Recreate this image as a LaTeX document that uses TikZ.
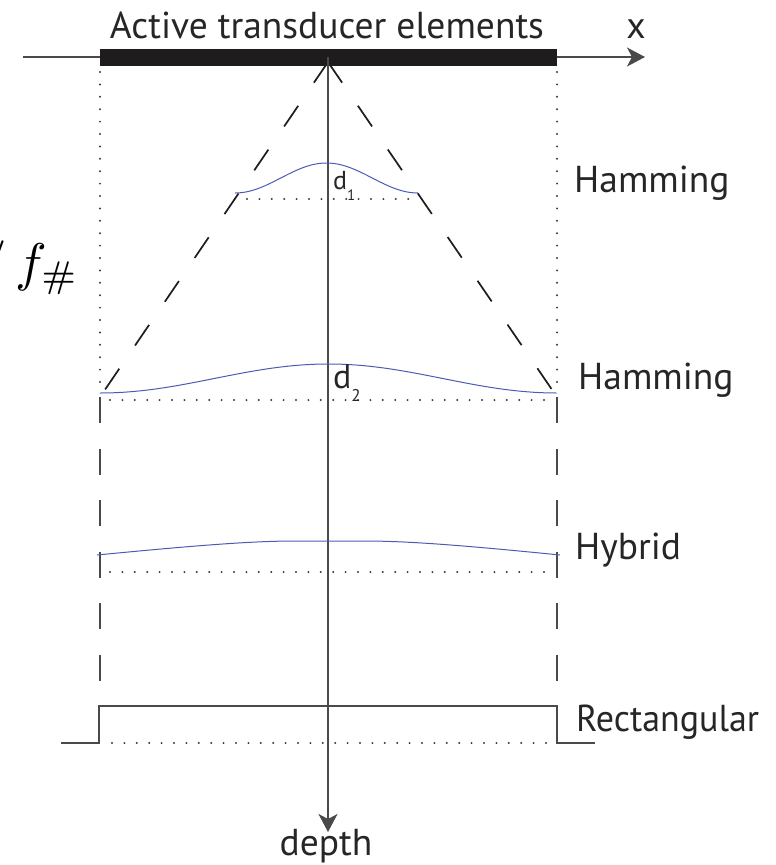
\documentclass[tikz,border=0pt]{standalone}
\usepackage[no-math]{fontspec}
\setmainfont{PT Sans}
\usetikzlibrary{arrows.meta}
\definecolor{axisgray}{HTML}{4A4A4A}
\definecolor{barblack}{HTML}{1E1C1D}
\definecolor{curveblue}{HTML}{4B5BB5}
\definecolor{dotgray}{HTML}{3A3A3A}
\begin{document}
\begin{tikzpicture}[x=1pt,y=-1pt,
  axisline/.style={draw=axisgray, line width=1.6pt},
  axisarrow/.style={-{Stealth[length=18pt,width=19pt,inset=5pt]}},
  conedash/.style={draw=barblack, line width=1.7pt, dash pattern=on 25pt off 28pt},
  sidedash/.style={draw=axisgray, line width=1.6pt, dash pattern=on 26pt off 25.5pt},
  dotline/.style={draw=dotgray, line width=2.2pt, line cap=round, dash pattern=on 0pt off 12.4pt},
  window/.style={draw=curveblue, line width=1pt},
  rectwin/.style={draw=axisgray, line width=1.6pt},
  lbl/.style={inner sep=0pt, font=\fontsize{37.5}{42}\selectfont, text=black!85},
  dlblA/.style={inner sep=0pt, font=\fontsize{26}{30}\selectfont, text=black!85},
  dlblB/.style={inner sep=0pt, font=\fontsize{34}{38}\selectfont, text=black!85}]
\useasboundingbox (0,0) rectangle (776,865);

% coordinates
\coordinate (xstart) at (23,57);
\coordinate (xend) at (645,57);
\coordinate (apex) at (328,57);
\coordinate (apexc) at (328,62);
\coordinate (dend) at (328,832);
\coordinate (cl) at (100,397);
\coordinate (cr) at (557,397);

% x axis
\draw[axisline, axisarrow] (xstart) -- (xend);
% transducer bar
\fill[barblack] (100,49) rectangle (557,66);
\node[lbl, anchor=base] (ate) at (327,38) {Active transducer elements};
\node[lbl, anchor=base] (xl) at (636,38) {x};

% dotted aperture edges
\draw[dotline] (100,72) -- (100,390);
\draw[dotline] (557,72) -- (557,390);

% cone dashed
\draw[conedash] (apexc) -- (cl);
\draw[conedash] (apexc) -- (cr);

% dashed verticals
\draw[sidedash] (cl) -- (100,706);
\draw[sidedash] (cr) -- (557,706);

% depth axis
\draw[axisline, axisarrow] (apex) -- (dend);
\node[lbl, anchor=base] (depth) at (326,855) {depth};

% d1 Hamming
\draw[dotline] (247,199) -- (415,199);
\draw[window] plot[domain=-1:1, samples=80, smooth] ({326.5+91.5*\x}, {193-30*(0.5+0.5*cos(180*\x))});
\node[dlblA, anchor=base west] (d1) at (333,189) {d\raisebox{-11pt}{\fontsize{15}{15}\selectfont 1}};
\node[lbl, anchor=base west] (h1) at (574,192) {Hamming};

% d2 Hamming
\draw[dotline] (110,400) -- (550,400);
\draw[window] plot[domain=-1:1, samples=100, smooth] ({328.5+228.5*\x}, {393-29*(0.5+0.5*cos(180*\x))});
\node[dlblB, anchor=base west] (d2) at (333,388) {d\raisebox{-13pt}{\fontsize{17}{17}\selectfont 2}};
\node[lbl, anchor=base west] (h2) at (578,389) {Hamming};

% Hybrid
\draw[dotline] (110,572) -- (550,572);
\draw[window] (97,555) .. controls (190,546) and (250,541) .. (295,541) -- (365,541) .. controls (410,541) and (470,546) .. (560,555);
\node[lbl, anchor=base west] (hy) at (575,559) {Hybrid};

% Rectangular
\draw[dotline] (112,743) -- (552,743);
\draw[rectwin] (61,743) -- (99,743) -- (99,706) -- (557,706) -- (557,743) -- (595,743);
\node[lbl, anchor=base west] (re) at (576,731) {\scalebox{0.96}[1]{Rectangular}};

% f-number label
\node[inner sep=0pt, anchor=base west] (fnum) at (-20,280) {\scalebox{5.3}{$/\,f_{\#}$}};
\end{tikzpicture}
\end{document}
